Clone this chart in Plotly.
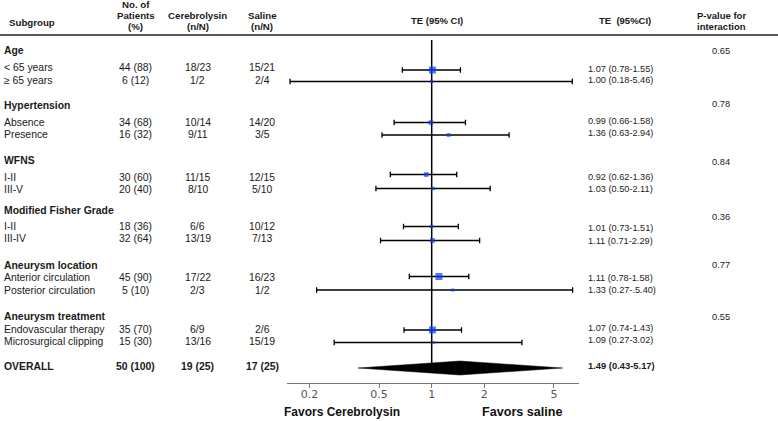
import math
import plotly.graph_objects as go

# ---------------- data ----------------
groups = ["Age", "Hypertension", "WFNS", "Modified Fisher Grade",
          "Aneurysm location", "Aneurysm treatment"]
p_interaction = ["0.65", "0.78", "0.84", "0.36", "0.77", "0.55"]

subgroups = ["&lt; 65 years", "≥ 65 years", "Absence", "Presence", "I-II", "III-V",
             "I-II", "III-IV", "Anterior circulation", "Posterior circulation",
             "Endovascular therapy", "Microsurgical clipping"]
patients = ["44 (88)", "6 (12)", "34 (68)", "16 (32)", "30 (60)", "20 (40)",
            "18 (36)", "32 (64)", "45 (90)", "5 (10)", "35 (70)", "15 (30)"]
cerebrolysin = ["18/23", "1/2", "10/14", "9/11", "11/15", "8/10",
                "6/6", "13/19", "17/22", "2/3", "6/9", "13/16"]
saline = ["15/21", "2/4", "14/20", "3/5", "12/15", "5/10",
          "10/12", "7/13", "16/23", "1/2", "2/6", "15/19"]
te_text = ["1.07 (0.78-1.55)", "1.00 (0.18-5.46)", "0.99 (0.66-1.58)", "1.36 (0.63-2.94)",
           "0.92 (0.62-1.36)", "1.03 (0.50-2.11)", "1.01 (0.73-1.51)", "1.11 (0.71-2.29)",
           "1.11 (0.78-1.58)", "1.33 (0.27-.5.40)", "1.07 (0.74-1.43)", "1.09 (0.27-3.02)"]

# plotted effect estimates and intervals (as drawn)
te_est = [1.01, 1.00, 0.99, 1.25, 0.93, 1.02, 1.00, 1.01, 1.10, 1.32, 1.01, 1.03]
ci_lo = [0.68, 0.155, 0.61, 0.52, 0.58, 0.48, 0.69, 0.51, 0.745, 0.22, 0.695, 0.277]
ci_hi = [1.46, 6.36, 1.56, 2.77, 1.39, 2.16, 1.42, 1.88, 1.63, 6.39, 1.48, 3.28]
study_weight = [7.0, 3.0, 4.5, 3.7, 4.7, 3.3, 3.3, 4.7, 7.0, 3.0, 7.0, 2.6]

overall_label = "OVERALL"
overall_patients = "50 (100)"
overall_cerebrolysin = "19 (25)"
overall_saline = "17 (25)"
overall_text = "1.49 (0.43-5.17)"
overall_est, overall_lo, overall_hi = 1.45, 0.38, 5.6

tick_vals = [0.2, 0.5, 1, 2, 5]
tick_text = ["0.2", "0.5", "1", "2", "5"]

# ---------------- layout constants (pixels) ----------------
W, H = 778, 421
AXIS_Y = 383
group_y = [51, 105.5, 161, 210, 265.5, 316.5]
pval_y = [51, 104, 161.5, 217, 265, 316.5]
row_y = [68, 80.5, 122.5, 134.5, 177.5, 189.5, 226, 238, 277.5, 290, 329.5, 341.5]
te_row_y = [68.5, 80, 121, 132.5, 177.5, 189, 228, 240.5, 277.5, 290, 328, 340]
ci_y = [70, 81.5, 122.5, 135, 174.5, 188.5, 226.5, 240.5, 276.5, 290, 330, 342.5]
overall_y = 366.5
diamond_y = 368
diamond_half = 7

COL_SUB = 2.5
COL_PAT = 135.5
COL_CER = 197.5
COL_SAL = 262
COL_TE = 587
COL_P = 721

FONT = "Liberation Sans"
TXT = "#1a1a1a"

fig = go.Figure()

# reference line at 1
fig.add_trace(go.Scatter(x=[1, 1], y=[40, diamond_y], mode="lines",
                         line=dict(color="black", width=1.5),
                         hoverinfo="skip", showlegend=False))

# CIs and squares
fig.add_trace(go.Scatter(
    x=te_est, y=ci_y, mode="markers",
    marker=dict(symbol="square", size=[w for w in study_weight], color="#0a3cff",
                line=dict(width=0)),
    error_x=dict(type="data", symmetric=False,
                 array=[h - e for h, e in zip(ci_hi, te_est)],
                 arrayminus=[e - l for e, l in zip(te_est, ci_lo)],
                 color="black", thickness=1.3, width=2.7),
    hoverinfo="skip", showlegend=False))

# overall diamond
fig.add_trace(go.Scatter(
    x=[overall_lo, overall_est, overall_hi, overall_est, overall_lo],
    y=[diamond_y, diamond_y - diamond_half, diamond_y, diamond_y + diamond_half, diamond_y],
    mode="lines", fill="toself", fillcolor="black",
    line=dict(color="black", width=0.5), hoverinfo="skip", showlegend=False))

ann = []


def txt(x, y, s, size=10.4, bold=False, anchor="left", color=TXT):
    if bold:
        s = "<b>" + s + "</b>"
    ann.append(dict(xref="paper", yref="paper", x=x / W, y=1 - y / H, text=s,
                    showarrow=False, xanchor=anchor, yanchor="middle", borderpad=0,
                    font=dict(family=FONT, size=size, color=color)))


# headers
HS = 9.7
txt(8, 22.5, "Subgroup", HS, True)
txt(COL_PAT, 4.5, "No. of", HS, True, "center")
txt(COL_PAT, 15.5, "Patients", HS, True, "center")
txt(COL_PAT, 27, "(%)", HS, True, "center")
txt(COL_CER, 15.5, "Cerebrolysin", HS, True, "center")
txt(COL_CER, 27, "(n/N)", HS, True, "center")
txt(COL_SAL, 15.5, "Saline", HS, True, "center")
txt(COL_SAL, 27, "(n/N)", HS, True, "center")
txt(436.5, 21, "TE (95% CI)", 9.5, True, "center")
txt(625, 21, "TE \u00a0(95%CI)", 9.5, True, "center")
txt(COL_P, 15.5, "P-value for", 9.5, True, "center")
txt(COL_P, 27, "interaction", 9.5, True, "center")

for g, y in zip(groups, group_y):
    txt(COL_SUB, y, g, 10.4, True)
for p, y in zip(p_interaction, pval_y):
    txt(COL_P, y, p, 9.3, False, "center", "#222")

for i in range(len(subgroups)):
    y = row_y[i]
    txt(COL_SUB, y, subgroups[i])
    txt(COL_PAT, y, patients[i], anchor="center")
    txt(COL_CER, y, cerebrolysin[i], anchor="center")
    txt(COL_SAL, y, saline[i], anchor="center")
    txt(COL_TE, te_row_y[i], te_text[i], 9.2, False, "left", "#222")

txt(COL_SUB, overall_y, overall_label, 10.4, True)
txt(COL_PAT, overall_y, overall_patients, 10.4, True, "center")
txt(COL_CER, overall_y, overall_cerebrolysin, 10.4, True, "center")
txt(COL_SAL, overall_y, overall_saline, 10.4, True, "center")
txt(COL_TE, 365, overall_text, 9.4, True, "left")

txt(283, 412, "Favors Cerebrolysin", 12, True, "left", "#111")
txt(522.7, 412, "Favors saline", 12.6, True, "center", "#111")

fig.update_layout(
    width=W, height=H, margin=dict(l=0, r=0, t=0, b=0),
    paper_bgcolor="white", plot_bgcolor="white",
    annotations=ann,
    shapes=[dict(type="line", xref="paper", yref="paper", x0=0, x1=1,
                 y0=1 - 35 / H, y1=1 - 35 / H, line=dict(color="#222", width=1.3))],
    xaxis=dict(type="log", domain=[287 / W, 579 / W], range=[-0.827, 0.842],
               showline=True, linecolor="#777", linewidth=1,
               ticks="outside", ticklen=4, tickcolor="#777", tickwidth=1,
               tickvals=tick_vals, ticktext=tick_text, ticklabelstandoff=-3,
               tickfont=dict(family="DejaVu Sans", size=11, color="#555"),
               showgrid=False, zeroline=False, anchor="y", fixedrange=True),
    yaxis=dict(domain=[1 - AXIS_Y / H, 1], range=[AXIS_Y, 0], visible=False,
               showgrid=False, zeroline=False, fixedrange=True),
    showlegend=False,
)

fig.write_html("out.html", config={"displayModeBar": False},
               post_script="document.body.style.margin='0';document.body.style.overflow='hidden';")
